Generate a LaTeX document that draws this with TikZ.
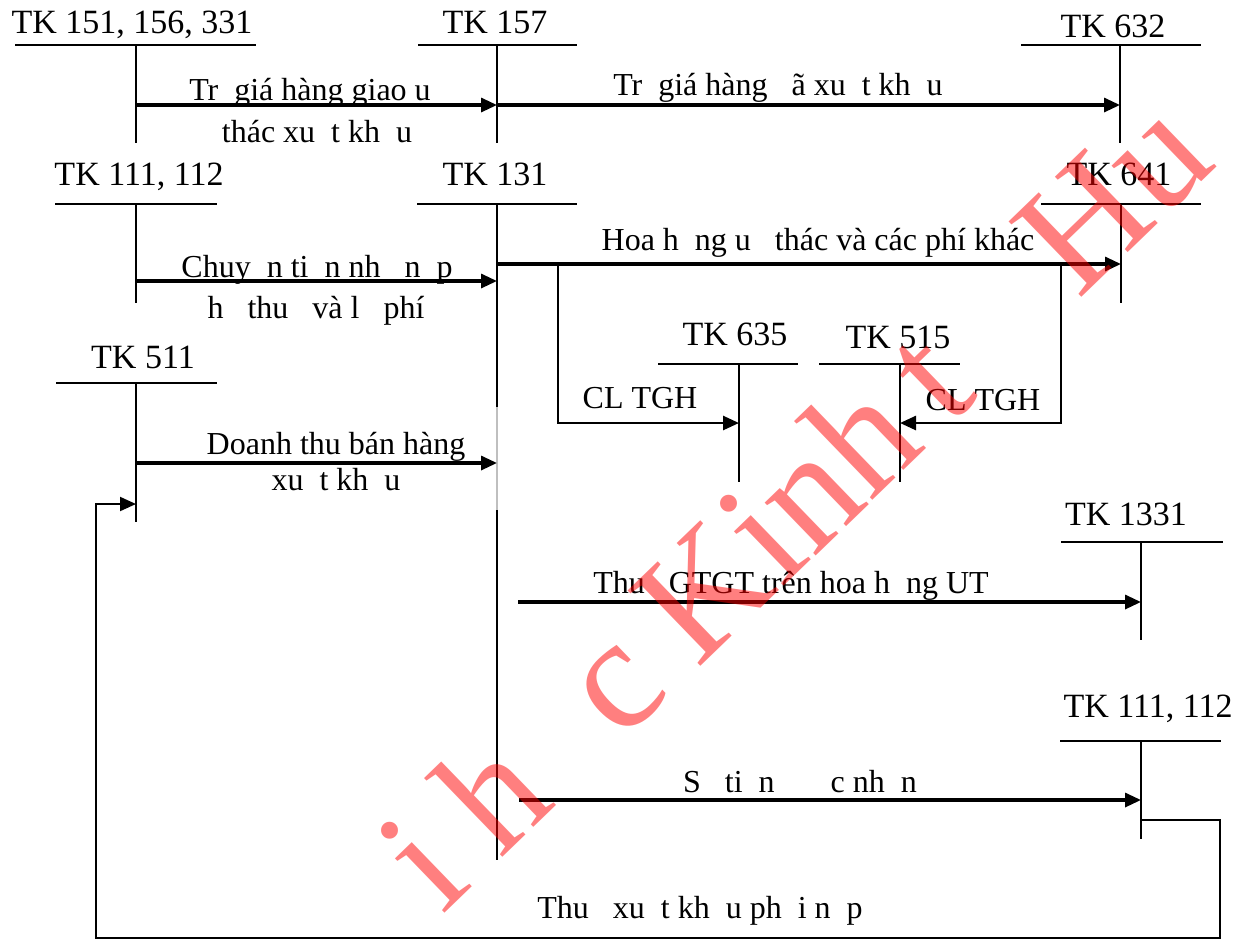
\documentclass[tikz,border=0pt]{standalone}
\usepackage{fontspec}
\setmainfont{Liberation Serif}
\usetikzlibrary{arrows.meta}
\newcommand{\miss}{\hspace{.5em}}

\begin{document}
\begin{tikzpicture}[x=0.5pt,y=-0.5pt,
  acct/.style={anchor=base,inner sep=0pt,font=\fontsize{17}{20}\selectfont},
  lbl/.style={anchor=base,inner sep=0pt,font=\fontsize{16}{19}\selectfont},
  tbar/.style={line width=1pt},
  tstem/.style={line width=0.9pt},
  flow/.style={line width=1.6pt,-{Triangle[length=8pt,width=7pt]}},
  link/.style={line width=1.3pt,-{Triangle[length=8pt,width=7pt]}},
  back/.style={line width=1pt,-{Triangle[length=8pt,width=7pt]}},
  wm/.style={anchor=base,inner sep=0pt,text=red,text opacity=0.5,
    font=\fontsize{80}{90}\selectfont,rotate=44}]

\useasboundingbox (0,0) rectangle (1251,939);

% Rows of the entries
\coordinate (r1) at (0,105);
\coordinate (r2) at (0,264);
\coordinate (r3) at (0,281);
\coordinate (r4) at (0,423);
\coordinate (r5) at (0,463);
\coordinate (r6) at (0,504);
\coordinate (r7) at (0,602);
\coordinate (r8) at (0,800);
\coordinate (r9) at (0,820);

% T accounts, first row
\node[acct] (n151) at (132,33) {TK 151, 156, 331};
\draw[tbar] (15,45) -- (256,45);
\coordinate (k151) at (136,45);
\draw[tstem] (k151) -- ++(0,98);

\node[acct] (n157) at (495,33) {TK 157};
\draw[tbar] (418,45) -- (577,45);
\coordinate (k157) at (497,45);
\draw[tstem] (k157) -- ++(0,98);

\node[acct] (n632) at (1113,37) {TK 632};
\draw[tbar] (1021,45) -- (1201,45);
\coordinate (k632) at (1120,45);
\draw[tstem] (k632) -- ++(0,98);

% T accounts, second row
\node[acct] (n111) at (139,185) {TK 111, 112};
\draw[tbar] (55,204) -- (217,204);
\coordinate (k111) at (136,204);
\draw[tstem] (k111) -- ++(0,99);

\node[acct] (n131) at (495,185) {TK 131};
\draw[tbar] (417,204) -- (577,204);
\coordinate (k131) at (497,204);
\draw[tstem] (k131) -- ++(0,203) coordinate (g1);
\draw[tstem,black!25] (g1) -- ++(0,103) coordinate (g2);
\draw[tstem] (g2) -- ++(0,350);

\node[acct] (n641) at (1119,185) {TK 641};
\draw[tbar] (1041,204) -- (1201,204);
\coordinate (k641) at (1121,204);
\draw[tstem] (k641) -- ++(0,99);

\node[acct] (n635) at (735,345) {TK 635};
\draw[tbar] (658,364) -- (798,364);
\coordinate (k635) at (739,364);
\draw[tstem] (k635) -- ++(0,118);

\node[acct] (n515) at (898,348) {TK 515};
\draw[tbar] (819,364) -- (960,364);
\coordinate (k515) at (900,364);
\draw[tstem] (k515) -- ++(0,118);

% T accounts, lower part
\node[acct] (n511) at (143,368) {TK 511};
\draw[tbar] (56,383) -- (217,383);
\coordinate (k511) at (136,383);
\draw[tstem] (k511) -- ++(0,139);

\node[acct] (n1331) at (1126,525) {TK 1331};
\draw[tbar] (1061,542) -- (1223,542);
\coordinate (k1331) at (1141,542);
\draw[tstem] (k1331) -- ++(0,98);

\node[acct] (n111b) at (1148,717) {TK 111, 112};
\draw[tbar] (1060,741) -- (1221,741);
\coordinate (k111b) at (1141,741);
\draw[tstem] (k111b) -- ++(0,98);

% Entries
\draw[flow] (k151 |- r1) -- (k157 |- r1);
\node[lbl] (l1a) at (310,100) {Tr\miss giá hàng giao u};
\node[lbl] (l1b) at (317,142) {thác xu\miss t kh\miss u};

\draw[flow] (k157 |- r1) -- (k632 |- r1);
\node[lbl] (l2) at (778,95) {Tr\miss giá hàng \miss ã xu\miss t kh\miss u};

\draw[flow] (k111 |- r3) -- (k131 |- r3);
\node[lbl] (l3a) at (317,277) {Chuy\miss n ti\miss n nh\miss{} n\miss p};
\node[lbl] (l3b) at (316,318) {h\miss{} thu\miss{} và l\miss{} phí};

\draw[flow] (k131 |- r2) -- (k641 |- r2);
\node[lbl] (l4) at (818,250) {Hoa h\miss ng u\miss{} thác và các phí khác};

\coordinate (b1) at (558,264);
\coordinate (b2) at (1061,264);
\draw[link] (b1) |- (k635 |- r4);
\node[lbl] (l5a) at (640,408) {CL TGH};
\draw[link] (b2) |- (k515 |- r4);
\node[lbl] (l5b) at (983,410) {CL TGH};

\draw[flow] (k511 |- r5) -- (k131 |- r5);
\node[lbl] (l6a) at (336,454) {Doanh thu bán hàng};
\node[lbl] (l6b) at (336,490) {xu\miss t kh\miss u};

\coordinate (g0) at (518,602);
\draw[flow] (g0) -- (k1331 |- r7);
\node[lbl] (l7) at (791,593) {Thu\miss{} GTGT trên hoa h\miss ng UT};

\coordinate (s0) at (519,800);
\draw[flow] (s0) -- (k111b |- r8);
\node[lbl] (l8) at (800,792) {S\miss{} ti\miss n \miss\miss\miss c nh\miss n};

% Tax paid back to TK 511
\coordinate (rx) at (1220,938);
\coordinate (lx) at (96,938);
\draw[back] (k111b |- r9) -| (rx) -- (lx) |- (k511 |- r6);
\node[lbl] (l9) at (700,918) {Thu\miss{} xu\miss t kh\miss u ph\miss i n\miss p};

% Watermark
\foreach \wx/\wy/\wt in {458/900/i, 529/832/h, 647/718/c, 813/558/Kinh, 964/412/t, 1149/233/Hu}
  \node[wm] (wm\wt) at (\wx,\wy) {\wt};

\end{tikzpicture}
\end{document}
